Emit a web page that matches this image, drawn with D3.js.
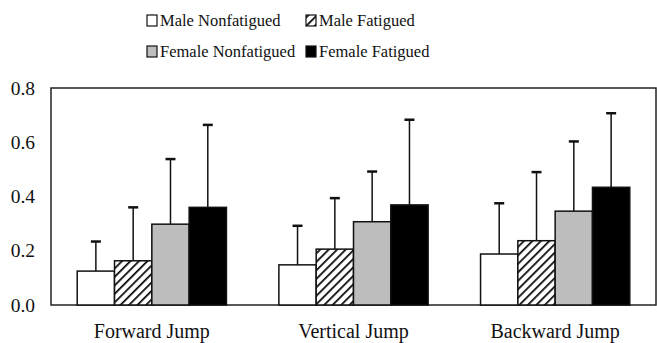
<!DOCTYPE html>
<html><head><meta charset="utf-8">
<script src="https://cdn.jsdelivr.net/npm/d3@7"></script>
</head><body style="margin:0"><svg id="c" width="657" height="343"></svg>
<script>
const categories = ["Forward Jump", "Vertical Jump", "Backward Jump"];
const seriesNames = ["Male Nonfatigued", "Male Fatigued", "Female Nonfatigued", "Female Fatigued"];
const maleNonfatigued   = [0.125, 0.148, 0.188];
const maleFatigued      = [0.163, 0.206, 0.237];
const femaleNonfatigued = [0.298, 0.307, 0.346];
const femaleFatigued    = [0.360, 0.369, 0.434];
const maleNonfatiguedErr   = [0.234, 0.292, 0.375];
const maleFatiguedErr      = [0.360, 0.394, 0.490];
const femaleNonfatiguedErr = [0.538, 0.492, 0.603];
const femaleFatiguedErr    = [0.664, 0.683, 0.707];
const yTicks = [0, 0.2, 0.4, 0.6, 0.8];

const values = [maleNonfatigued, maleFatigued, femaleNonfatigued, femaleFatigued];
const errTops = [maleNonfatiguedErr, maleFatiguedErr, femaleNonfatiguedErr, femaleFatiguedErr];

const svg = d3.select("#c");
const FONT = '"Liberation Serif"';
const L = 51, R = 656, T = 88, B = 305;

const defs = svg.append("defs");
const pat = defs.append("pattern").attr("id","hatch").attr("patternUnits","userSpaceOnUse")
  .attr("width",6).attr("height",6).attr("patternTransform","rotate(45)");
pat.append("rect").attr("width",6).attr("height",6).attr("fill","#fff");
pat.append("line").attr("x1",0).attr("y1",0).attr("x2",0).attr("y2",6)
  .attr("stroke","#000").attr("stroke-width",3.4);

const fills = ["#fff","url(#hatch)","#bdbdbd","#000"];

const x0 = d3.scaleBand().domain(categories).range([L, R]).paddingInner(0.26).paddingOuter(0.13);
const x1 = d3.scaleBand().domain(seriesNames).range([0, x0.bandwidth()]);
const y = d3.scaleLinear().domain([0, 0.8]).range([B, T]);

svg.append("rect").attr("x",L).attr("y",T).attr("width",R-L).attr("height",B-T)
  .attr("fill","none").attr("stroke","#222").attr("stroke-width",1.5);

// y tick labels
svg.append("g").selectAll("text").data(yTicks).join("text")
  .attr("x", L-16).attr("y", d => y(d)).attr("dy","0.34em").attr("text-anchor","end")
  .attr("font-size",19.5).style("font-family",FONT).attr("fill","#111")
  .text(d => d3.format(".1f")(d));

// x category labels
svg.append("g").selectAll("text").data(categories).join("text")
  .attr("x", d => x0(d) + x0.bandwidth()/2).attr("y", B+33).attr("text-anchor","middle")
  .attr("font-size",20).style("font-family",FONT).attr("fill","#111")
  .text(d => d);

seriesNames.forEach((s, si) => {
  categories.forEach((c, ci) => {
    const bx = x0(c) + x1(s), bw = x1.bandwidth(), cx = bx + bw/2;
    svg.append("line").attr("x1",cx).attr("x2",cx).attr("y1",y(values[si][ci])).attr("y2",y(errTops[si][ci]))
      .attr("stroke","#111").attr("stroke-width",1.5);
    svg.append("line").attr("x1",cx-5).attr("x2",cx+5).attr("y1",y(errTops[si][ci])).attr("y2",y(errTops[si][ci]))
      .attr("stroke","#111").attr("stroke-width",2.5);
  });
});
seriesNames.forEach((s, si) => {
  categories.forEach((c, ci) => {
    const bx = x0(c) + x1(s), bw = x1.bandwidth();
    svg.append("rect").attr("x",bx).attr("width",bw).attr("y",y(values[si][ci]))
      .attr("height",y(0)-y(values[si][ci])).attr("fill",fills[si])
      .attr("stroke","#111").attr("stroke-width",1.5);
  });
});

const legPos = [[147,15],[306,15],[147,46],[306,46]];
seriesNames.forEach((s, si) => {
  const [lx, ly] = legPos[si];
  svg.append("rect").attr("x",lx).attr("y",ly).attr("width",10).attr("height",11)
    .attr("fill",fills[si]).attr("stroke","#111").attr("stroke-width",1.2);
  svg.append("text").attr("x",lx+13).attr("y",ly+11).text(s)
    .attr("font-size",16.5).style("font-family",FONT).attr("fill","#111");
});
</script></body></html>
